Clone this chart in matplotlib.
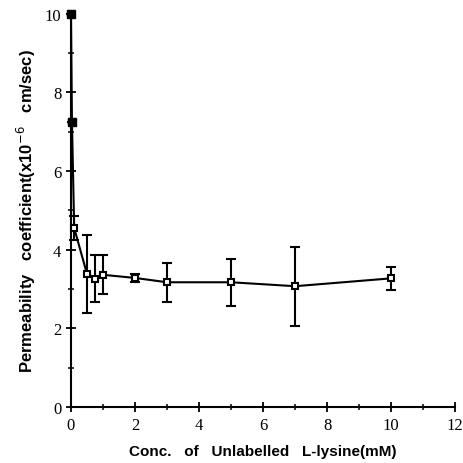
import numpy as np
import matplotlib.pyplot as plt

# data
conc = [0.0, 0.03, 0.1, 0.5, 0.75, 1.0, 2.0, 3.0, 5.0, 7.0, 10.0]
perm = [10.0, 7.25, 4.55, 3.38, 3.26, 3.36, 3.28, 3.17, 3.17, 3.07, 3.27]
err = [0.0, 0.0, 0.3, 1.0, 0.6, 0.5, 0.1, 0.5, 0.6, 1.0, 0.3]

fig = plt.figure(figsize=(4.64, 4.64), dpi=100)
ax = fig.add_axes([0.153, 0.121, 0.828, 0.847])

ax.plot(conc, perm, color='black', linewidth=1.5, clip_on=False)
ax.errorbar(conc, perm, yerr=err, fmt='s', color='black', ecolor='black',
            markerfacecolor='white', markeredgecolor='black', markersize=5,
            markeredgewidth=1.5, elinewidth=1.5, capsize=3.5, capthick=1.5,
            clip_on=False)
# the first two points look filled in the original
ax.plot(conc[:2], perm[:2], 's', color='black', markersize=5.5, clip_on=False, zorder=5)

ax.set_xlim(0, 12)
ax.set_ylim(0, 10)
ax.set_xticks(np.arange(0, 13, 2))
ax.set_yticks(np.arange(0, 11, 2))
ax.set_xticks(np.arange(1, 12, 2), minor=True)
ax.set_yticks(np.arange(1, 10, 2), minor=True)

for s in ['top', 'right']:
    ax.spines[s].set_visible(False)
for s in ['left', 'bottom']:
    ax.spines[s].set_linewidth(1.5)

ax.tick_params(which='major', direction='inout', length=7, width=1.3)
ax.tick_params(which='minor', direction='inout', length=5, width=1.1)
for lab in ax.get_xticklabels() + ax.get_yticklabels():
    lab.set_fontfamily('Liberation Serif')
    lab.set_fontsize(12)

ax.set_xlabel('Conc.   of   Unlabelled   L-lysine(mM)', family='Liberation Sans',
              fontweight='bold', fontsize=11, labelpad=8)
ax.set_ylabel('Permeability   coefficient(x10$^{-6}$   cm/sec)', family='Liberation Sans',
              fontweight='bold', fontsize=12, labelpad=5)

plt.savefig('out.png', dpi=100)
